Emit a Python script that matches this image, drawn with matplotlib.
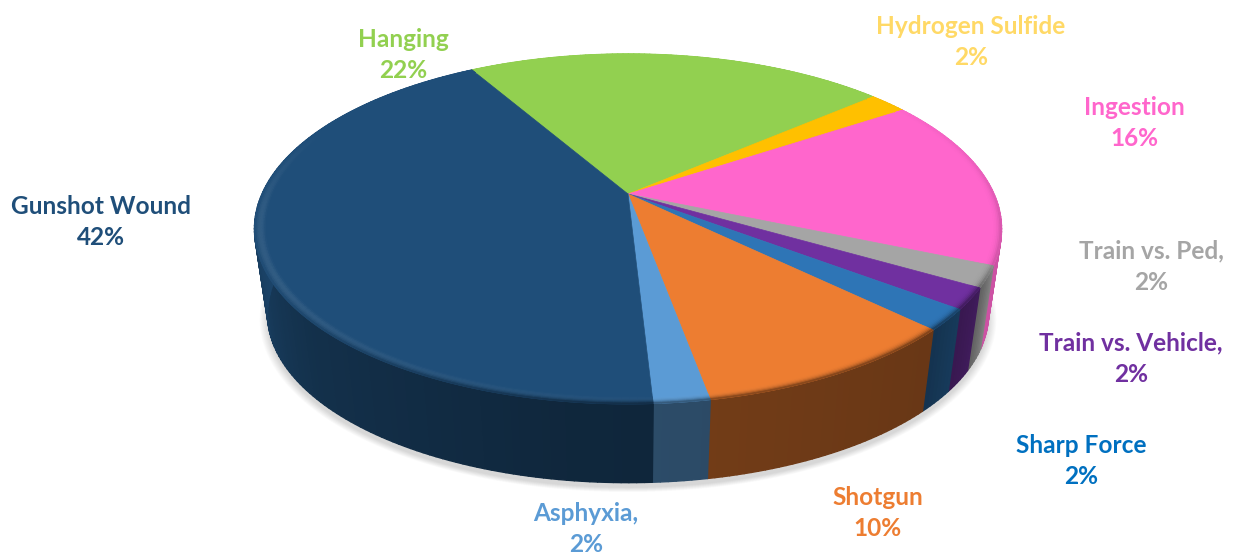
#!/usr/bin/env python3
"""Manner of death pie, drawn as a tilted 3D disc with plain matplotlib polygons."""

import matplotlib
matplotlib.use('Agg')
import matplotlib.pyplot as plt
from matplotlib.collections import PolyCollection
from matplotlib.colors import to_rgb
import numpy as np

categories = ['Hanging', 'Hydrogen Sulfide', 'Ingestion', 'Train vs. Ped,', 'Train vs. Vehicle,',
              'Sharp Force', 'Shotgun', 'Asphyxia,', 'Gunshot Wound']
values = [22, 2, 16, 2, 2, 2, 10, 2, 42]

slice_colors = ['#92D050', '#FFC000', '#FF66CC', '#A5A5A5', '#7030A0',
                '#2E75B6', '#ED7D31', '#5B9BD5', '#1F4E79']
label_colors = ['#92D050', '#FFD966', '#FF66CC', '#A5A5A5', '#7030A0',
                '#0070C0', '#ED7D31', '#5B9BD5', '#1F4E79']
label_pos = [(403, 55), (971, 42), (1134, 123), (1151, 267), (1131, 359),
             (1081, 461), (878, 513), (586, 529), (101, 222)]

START = -30.0     # clockwise from the far side of the disc
K = 0.2           # perspective strength
APEX_X, APEX_Y = 628, 194
RX, RY = 366, 168
BOTTOM_Y, BOTTOM_SCALE = 280, 0.965


def project(theta, r=1.0, scale=1.0, apex_y=APEX_Y):
    """Map a point of the pie plane (clockwise degrees, radius) to figure pixels."""
    theta = np.asarray(theta, dtype=float)
    # the front of the original disc sits a little further round than a true circle
    d = (theta - 170 + 180) % 360 - 180
    t = np.radians(theta - 2.0 * np.exp(-(d / 60) ** 2))
    u, v = r * np.sin(t), r * np.cos(t)
    w = 1 + K * v
    return APEX_X + scale * RX * u / w, apex_y - scale * RY * v / w


def side_shade(theta):
    return np.interp(theta % 360, [0, 100, 114, 122, 135, 190, 230, 270, 300, 360],
                     [1, .82, .8, .56, .44, .5, .62, .88, .95, 1])


def blend(c, other, a):
    return tuple((1 - a) * x + a * y for x, y in zip(c, other))


fig = plt.figure(figsize=(12.36, 5.56), dpi=100)
ax = fig.add_axes([0, 0, 1, 1])
ax.set_xlim(0, 1236)
ax.set_ylim(556, 0)
ax.axis('off')

# soft shadow below the disc
all_angles = np.linspace(0, 360, 361)
for grow in np.linspace(1.022, 1.0, 10):
    sx, sy = project(all_angles, scale=BOTTOM_SCALE * grow, apex_y=BOTTOM_Y + 5)
    ax.fill(sx, sy, color='black', alpha=0.014, lw=0, zorder=1)

edges = START + np.cumsum([0] + values) * 3.6

# side wall
for a0, a1, col in zip(edges[:-1], edges[1:], slice_colors):
    base = to_rgb(col)
    steps = np.linspace(a0, a1, max(2, int(a1 - a0) + 1))
    quads, colors = [], []
    for s0, s1 in zip(steps[:-1], steps[1:]):
        x0, y0 = project(np.array([s0, s1]))
        x1, y1 = project(np.array([s1, s0]), scale=BOTTOM_SCALE, apex_y=BOTTOM_Y)
        quads.append(np.column_stack([np.r_[x0, x1], np.r_[y0, y1]]))
        f = side_shade((s0 + s1) / 2)
        colors.append(tuple(c * f for c in base))
    ax.add_collection(PolyCollection(quads, facecolors=colors, edgecolors=colors, linewidths=1.0, zorder=2))

# top face
for a0, a1, col in zip(edges[:-1], edges[1:], slice_colors):
    steps = np.linspace(a0, a1, max(3, int(a1 - a0) * 2))
    x, y = project(steps)
    ax.fill(np.r_[APEX_X, x], np.r_[APEX_Y, y], color=col, lw=0.5, zorder=3)

# bevel on the rim: light towards the left, falling into the wall at the front
rings = np.linspace(0.972, 1.0, 8)
quads, colors = [], []
for a0, a1, col in zip(edges[:-1], edges[1:], slice_colors):
    base = to_rgb(col)
    steps = np.linspace(a0, a1, max(2, int(a1 - a0) + 1))
    for s0, s1 in zip(steps[:-1], steps[1:]):
        mid = (s0 + s1) / 2
        m = mid % 360
        dark = np.interp(m, [50, 100, 180, 240, 310], [0, 1, 1, .25, 0])
        light = np.interp(m, [150, 190, 240, 265, 295], [0, .04, .09, .08, 0])
        for r0, r1 in zip(rings[:-1], rings[1:]):
            t = (r0 + r1 - 2 * rings[0]) / (2 * (rings[-1] - rings[0]))
            c = blend(base, (1, 1, 1), light * np.sin(np.pi * t))
            c = blend(c, tuple(b * side_shade(mid) for b in base), dark * t ** 3)
            x0, y0 = project(np.array([s0, s1]), r=r0)
            x1, y1 = project(np.array([s1, s0]), r=r1)
            quads.append(np.column_stack([np.r_[x0, x1], np.r_[y0, y1]]))
            colors.append(c)
ax.add_collection(PolyCollection(quads, facecolors=colors, edgecolors=colors, linewidths=0.6, zorder=4))

# data labels
for name, val, col, (lx, ly) in zip(categories, values, label_colors, label_pos):
    ax.text(lx, ly, f'{name}\n{val}%', color=col, ha='center', va='center',
            fontsize=17.6, fontweight='bold', family='Lato', linespacing=1.46, zorder=5)

plt.savefig('out.png', dpi=100)
